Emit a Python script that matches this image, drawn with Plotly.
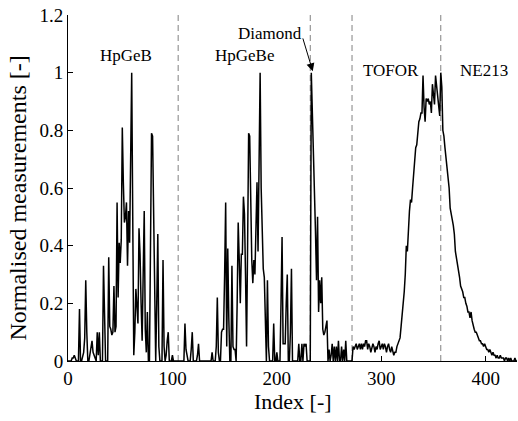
import plotly.graph_objects as go

# Normalised measurements, one value per index (0..430)
measurements = [
    0, 0, 0, 0, 0.01, 0.01, 0.02, 0.01, 0, 0,
    0, 0.18, 0, 0, 0.02, 0.03, 0.08, 0.28, 0.1, 0,
    0, 0.02, 0.05, 0.07, 0.03, 0.02, 0.01, 0, 0.1, 0.02,
    0.1, 0, 0, 0, 0.33, 0.1, 0, 0, 0, 0.36,
    0.12, 0.11, 0.09, 0.1, 0.26, 0.1, 0.12, 0.55, 0.22, 0.41,
    0.34, 0.42, 0.81, 0.62, 0.48, 0.5, 0.55, 0.33, 0.52, 0.41,
    0.7, 1.0, 0.5, 0.02, 0.1, 0.25, 0.19, 0.13, 0.46, 0.37,
    0.2, 0.07, 0.3, 0.52, 0.11, 0.03, 0.17, 0, 0, 0.6,
    0.79, 0.78, 0.55, 0.2, 0, 0.2, 0.44, 0.05, 0, 0,
    0, 0.35, 0.05, 0, 0.02, 0.07, 0.1, 0, 0, 0,
    0.02, 0, 0, 0, 0, 0, 0, 0, 0, 0,
    0, 0, 0.13, 0.04, 0.02, 0, 0, 0, 0.04, 0.1,
    0, 0, 0, 0, 0.02, 0.06, 0, 0, 0, 0,
    0, 0, 0, 0, 0, 0, 0, 0, 0.03, 0,
    0, 0, 0.05, 0.22, 0.03, 0, 0, 0.1, 0.11, 0.11,
    0.3, 0.55, 0.05, 0.39, 0.15, 0, 0, 0.33, 0.05, 0.04,
    0.04, 0, 0.2, 0.48, 0.35, 0.2, 0.37, 0.37, 0.57, 0.51,
    0.3, 0.05, 0.4, 0.79, 0.78, 0.5, 0.35, 0.27, 0.35, 0.3,
    0.45, 0.62, 0.38, 0.7, 1.0, 0.6, 0.4, 0.32, 0.29, 0.15,
    0, 0.28, 0.05, 0, 0, 0, 0, 0.13, 0, 0,
    0.03, 0, 0, 0, 0.2, 0.43, 0.06, 0.06, 0.06, 0.2,
    0.3, 0, 0, 0.1, 0.32, 0, 0, 0, 0, 0,
    0, 0.06, 0, 0, 0.06, 0, 0.06, 0.05, 0.06, 0,
    0, 0, 0, 1.0, 0.88, 0.74, 0.6, 0.45, 0.28, 0.5,
    0.17, 0.28, 0.2, 0.29, 0.11, 0.09, 0.1, 0.12, 0.14, 0,
    0.04, 0, 0.02, 0.06, 0, 0.05, 0, 0.05, 0, 0.07,
    0, 0, 0.05, 0, 0.04, 0, 0.07, 0, 0, 0,
    0, 0, 0, 0.05, 0.04, 0.05, 0.06, 0.04, 0.05, 0.06,
    0.04, 0.06, 0.04, 0.06, 0.05, 0.07, 0.07, 0.04, 0.06, 0.05,
    0.03, 0.05, 0.06, 0.05, 0.03, 0.05, 0.04, 0.06, 0.07, 0.04,
    0.05, 0.06, 0.04, 0.06, 0.05, 0.03, 0.05, 0.06, 0.04, 0.03,
    0.05, 0.03, 0.02, 0.03, 0.03, 0.05, 0.06, 0.07, 0.08, 0.12,
    0.16, 0.19, 0.24, 0.3, 0.4, 0.38, 0.47, 0.52, 0.56, 0.55,
    0.6, 0.64, 0.7, 0.74, 0.75, 0.8, 0.83, 0.84, 0.86, 0.86,
    0.99, 0.88, 0.83, 0.91, 0.9, 0.91, 0.89, 0.9, 0.86, 0.96,
    0.92, 0.89, 0.99, 0.95, 0.93, 0.87, 0.85, 1.0, 0.95, 0.8,
    0.78, 0.74, 0.7, 0.68, 0.63, 0.6, 0.53, 0.5, 0.49, 0.47,
    0.44, 0.38, 0.36, 0.33, 0.32, 0.29, 0.26, 0.25, 0.24, 0.22,
    0.22, 0.2, 0.19, 0.17, 0.17, 0.15, 0.17, 0.14, 0.12, 0.11,
    0.1, 0.1, 0.09, 0.08, 0.07, 0.07, 0.06, 0.06, 0.05, 0.06,
    0.05, 0.04, 0.04, 0.03, 0.04, 0.03, 0.02, 0.03, 0.02, 0.02,
    0.01, 0.02, 0.01, 0.01, 0.02, 0.01, 0.01, 0.01, 0, 0.01,
    0.01, 0, 0.01, 0, 0.01, 0, 0, 0, 0.01, 0, 0,
]
index = list(range(len(measurements)))

# Boundaries between diagnostics
boundaries = [105.5, 232, 272, 357]

# Diagnostic labels and their positions
labels = ["HpGeB", "HpGeBe", "TOFOR", "NE213"]
label_x = [55.9, 169.3, 309, 398]
label_y = [1.061, 1.061, 1.009, 1.009]

x_ticks = [0, 100, 200, 300, 400]
y_ticks = [0, 0.2, 0.4, 0.6, 0.8, 1, 1.2]
y_tick_text = ["0", "0.2", "0.4", "0.6", "0.8", "1", "1.2"]

FONT = "Liberation Serif, Times New Roman, serif"

fig = go.Figure()

for b in boundaries:
    fig.add_shape(type="line", x0=b, x1=b, y0=0, y1=1.2, xref="x", yref="y",
                  line=dict(color="#808080", width=1, dash="6px,4px"), layer="below")

fig.add_trace(go.Scatter(x=index, y=measurements, mode="lines",
                         line=dict(color="black", width=1.5), showlegend=False))

annotations = []
for t, xx, yy in zip(labels, label_x, label_y):
    annotations.append(dict(x=xx, y=yy, xref="x", yref="y", text=t, showarrow=False,
                            font=dict(family=FONT, size=17, color="black")))

# Diamond label with arrow pointing at its peak
annotations.append(dict(x=193, y=1.137, xref="x", yref="y", text="Diamond", showarrow=False,
                        font=dict(family=FONT, size=17, color="black")))
annotations.append(dict(x=234.4, y=1.005, xref="x", yref="y", ax=224.5, ay=1.124,
                        axref="x", ayref="y", text="", showarrow=True,
                        arrowhead=2, arrowsize=1.6, arrowwidth=1, arrowcolor="black"))

# Axis titles
annotations.append(dict(x=0.5, y=-0.118, xref="paper", yref="paper", text="Index [-]",
                        showarrow=False, xanchor="center", yanchor="middle",
                        font=dict(family=FONT, size=22, color="black")))
annotations.append(dict(x=-0.111, y=0.47, xref="paper", yref="paper",
                        text="Normalised measurements [-]", textangle=-90,
                        showarrow=False, xanchor="center", yanchor="middle",
                        font=dict(family=FONT, size=24, color="black")))

fig.update_layout(
    width=518, height=421,
    margin=dict(l=68, r=1, t=15, b=60),
    paper_bgcolor="white", plot_bgcolor="white",
    font=dict(family=FONT, color="black"),
    annotations=annotations,
    xaxis=dict(range=[0, 430], tickvals=x_ticks, showgrid=False, zeroline=False,
               showline=True, linecolor="black", linewidth=1,
               ticks="inside", ticklen=5, tickcolor="black",
               tickfont=dict(family=FONT, size=19, color="black")),
    yaxis=dict(range=[0, 1.2], tickvals=y_ticks, ticktext=y_tick_text, showgrid=False,
               zeroline=False, showline=True, linecolor="black", linewidth=1,
               ticks="inside", ticklen=5, tickcolor="black",
               tickfont=dict(family=FONT, size=19, color="black")),
)

fig.write_html("out.html")
